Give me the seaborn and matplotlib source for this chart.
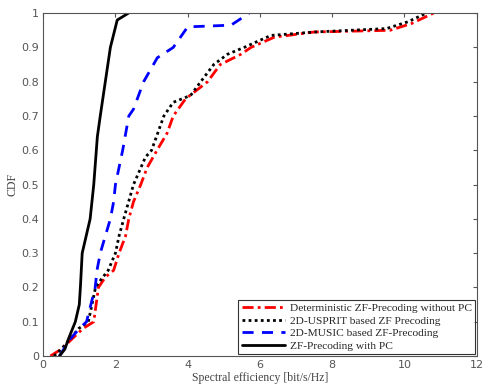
import seaborn as sns
import matplotlib.pyplot as plt
import pandas as pd

# CDF curves (x = spectral efficiency, y = CDF)
det_x = [0.2, 0.5, 0.8, 1.1, 1.4, 1.53, 1.72, 1.95, 2.1, 2.28, 2.37, 2.5, 2.7, 2.88, 3.15, 3.43, 3.6, 3.94, 4.55, 4.9, 5.47, 5.75, 6.4, 7.5, 9.6, 10.2, 10.8]
det_y = [0.0, 0.02, 0.05, 0.08, 0.1, 0.2, 0.23, 0.25, 0.3, 0.35, 0.4, 0.45, 0.5, 0.55, 0.6, 0.65, 0.7, 0.75, 0.8, 0.85, 0.88, 0.9, 0.93, 0.945, 0.95, 0.97, 1.0]

usp_x = [0.3, 0.5, 0.75, 0.98, 1.25, 1.45, 1.58, 1.8, 2.0, 2.1, 2.23, 2.5, 2.83, 3.0, 3.34, 3.6, 4.08, 4.36, 4.72, 5.1, 5.56, 6.3, 7.5, 9.5, 10.1, 10.6]
usp_y = [0.0, 0.02, 0.05, 0.08, 0.1, 0.2, 0.22, 0.25, 0.3, 0.35, 0.4, 0.5, 0.58, 0.6, 0.7, 0.74, 0.76, 0.8, 0.85, 0.88, 0.9, 0.935, 0.945, 0.955, 0.975, 1.0]

mus_x = [0.45, 0.75, 1.0, 1.2, 1.44, 1.49, 1.58, 1.72, 1.86, 1.95, 2.0, 2.2, 2.37, 2.5, 2.78, 3.16, 3.6, 4.0, 5.2, 5.7]
mus_y = [0.0, 0.05, 0.08, 0.1, 0.2, 0.25, 0.3, 0.35, 0.4, 0.45, 0.5, 0.6, 0.7, 0.72, 0.8, 0.87, 0.9, 0.96, 0.965, 1.0]

pc_x = [0.45, 0.6, 0.7, 0.89, 1.0, 1.03, 1.08, 1.3, 1.4, 1.5, 1.58, 1.72, 1.86, 2.05, 2.36]
pc_y = [0.0, 0.02, 0.05, 0.1, 0.15, 0.2, 0.3, 0.4, 0.5, 0.64, 0.7, 0.8, 0.9, 0.98, 1.0]

labels = ["Deterministic ZF-Precoding without PC",
          "2D-USPRIT based ZF Precoding",
          "2D-MUSIC based ZF-Precoding",
          "ZF-Precoding with PC"]

sns.set_style("white")
plt.rcParams['font.family'] = ['Liberation Serif', 'DejaVu Serif']

fig, ax = plt.subplots(figsize=(4.85, 3.87), dpi=100)
fig.subplots_adjust(left=0.089, right=0.983, bottom=0.080, top=0.966)

series = [(det_x, det_y, "red", (0, (4, 1.5, 1, 1.5))),
          (usp_x, usp_y, "black", (0, (1, 1.2))),
          (mus_x, mus_y, "blue", (0, (4, 3))),
          (pc_x, pc_y, "black", "-")]

for (xs, ys, c, ls), lab in zip(series, labels):
    df = pd.DataFrame({"x": xs, "y": ys})
    sns.lineplot(data=df, x="x", y="y", sort=False, color=c, linestyle=ls,
                 linewidth=2, label=lab, ax=ax)

ax.set_xlim(0, 12)
ax.set_ylim(0, 1)
ax.set_xticks(range(0, 13, 2))
ax.set_yticks([i / 10 for i in range(11)])
ax.set_yticklabels(["0", "0.1", "0.2", "0.3", "0.4", "0.5", "0.6", "0.7", "0.8", "0.9", "1"])
ax.tick_params(direction="in", length=3, labelsize=8, colors="#555555", pad=3,
               top=True, right=True)
for lab in ax.get_xticklabels() + ax.get_yticklabels():
    lab.set_family("DejaVu Sans")
for s in ax.spines.values():
    s.set_color("#555555")
    s.set_linewidth(0.8)
ax.set_xlabel("Spectral efficiency [bit/s/Hz]", fontsize=8.5, color="#444444", labelpad=1)
ax.set_ylabel("CDF", fontsize=8.5, color="#444444", labelpad=2)

leg = ax.legend(loc="lower right", fontsize=8.2, frameon=True, fancybox=False,
                borderaxespad=0.15, handlelength=3.8, labelspacing=0.22,
                borderpad=0.3, handletextpad=0.4)
leg.get_frame().set_edgecolor("black")
leg.get_frame().set_linewidth(0.8)

plt.savefig("out.png", dpi=100)
plt.close()
